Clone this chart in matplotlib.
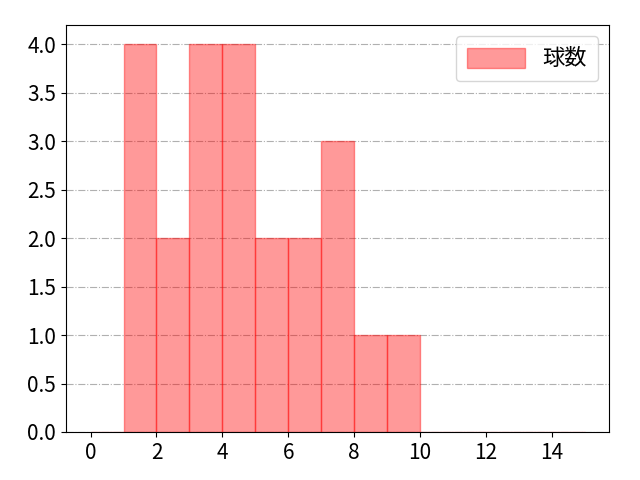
import matplotlib
matplotlib.use('Agg')
import matplotlib.pyplot as plt

plt.rcParams['font.family'] = ['Noto Sans CJK JP', 'DejaVu Sans']

# 各ビン(0〜14)の球数
bin_edges = list(range(0, 16))
counts = [0, 4, 2, 4, 4, 2, 2, 3, 1, 1, 0, 0, 0, 0, 0]
xticks = list(range(0, 16, 2))

fig = plt.figure(figsize=(6.4, 4.8), dpi=100)
ax = fig.add_subplot(1, 1, 1)

ax.bar(bin_edges[:-1], counts, width=1, align='edge', color='red', alpha=0.4,
       edgecolor='red', linewidth=1, label='球数')

ax.set_xlim(-0.75, 15.75)
ax.set_xticks(xticks)
ax.grid(axis='y', linestyle='-.', color='#b0b0b0')
ax.set_axisbelow(True)
ax.tick_params(axis='both', labelsize=15)
ax.legend(loc='upper right', fontsize=16, handlelength=2.6, handleheight=1.0,
          borderpad=0.5)

fig.subplots_adjust(left=0.103, right=0.952, top=0.948, bottom=0.1)
fig.savefig('out.png')
